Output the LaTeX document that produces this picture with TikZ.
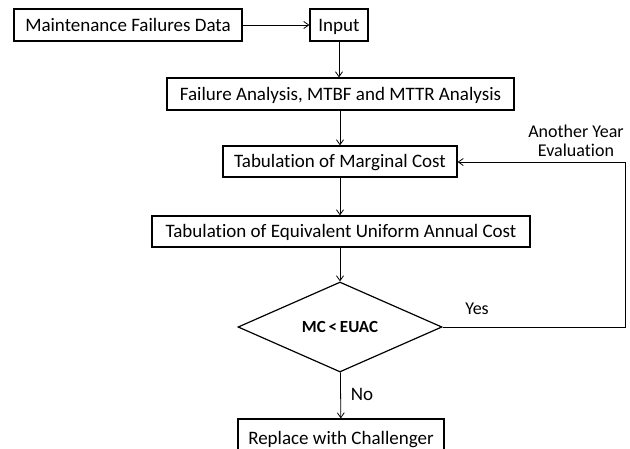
\documentclass[tikz,border=0pt]{standalone}
\usepackage{fontspec}
\setmainfont{Carlito}[Ligatures=NoCommon]
\usetikzlibrary{arrows.meta,shapes.geometric}
\begin{document}
\begin{tikzpicture}[x=1pt,y=-1pt,
  box/.style={draw,line width=1.2pt,inner sep=0pt,text height=15pt,text depth=3pt,font=\fontsize{19}{22}\selectfont},
  conn/.style={line width=0.8pt,-{Straight Barb[length=5pt,width=7pt]}},
  lbl/.style={font=\fontsize{19}{22}\selectfont,inner sep=0pt}]
\clip (0,0) rectangle (630,448);
\fill[white] (0,0) rectangle (630,448);
\node[box,minimum width=228pt,minimum height=32pt] (mfd) at (128,25) {Maintenance Failures Data};
\node[box,minimum width=58pt,minimum height=32pt] (inp) at (339,25) {Input};
\node[box,minimum width=347pt,minimum height=32pt] (fa) at (340.5,94) {Failure Analysis, MTBF and MTTR Analysis};
\node[box,minimum width=234pt,minimum height=31pt] (mc) at (340,161.5) {Tabulation of Marginal Cost};
\node[box,minimum width=378pt,minimum height=31pt] (euac) at (341,231.5) {Tabulation of Equivalent Uniform Annual Cost};
\node[box,diamond,text height=,text depth=,minimum width=204pt,minimum height=90pt,font=\fontsize{17}{20}\selectfont\bfseries] (dia) at (340,327) {MC\,<\,EUAC};
\node[box,minimum width=206pt,minimum height=38pt] (rep) at (341,438) {Replace with Challenger};
\coordinate (c1) at (625,327);
\coordinate (c2) at (625,162);
\draw[conn] (mfd) -- (inp);
\draw[conn] (inp) -- (fa.north -| inp);
\draw[conn] (fa.south -| mc) -- (mc);
\draw[conn] (mc) -- (euac.north -| mc);
\draw[conn] (euac.south -| dia) -- (dia);
\draw[conn] (dia) -- (rep);
\draw[conn] (dia.east) -- (c1) -- (c2) -- (mc.east |- c2);
\node[lbl,font=\fontsize{18}{22}\selectfont] (yes) at (477,309) {Yes};
\node[lbl] (no) at (362,394) {No};
\node[lbl,align=center,font=\fontsize{18}{19}\selectfont] (ay) at (576,141) {Another Year\\Evaluation};
\end{tikzpicture}
\end{document}
